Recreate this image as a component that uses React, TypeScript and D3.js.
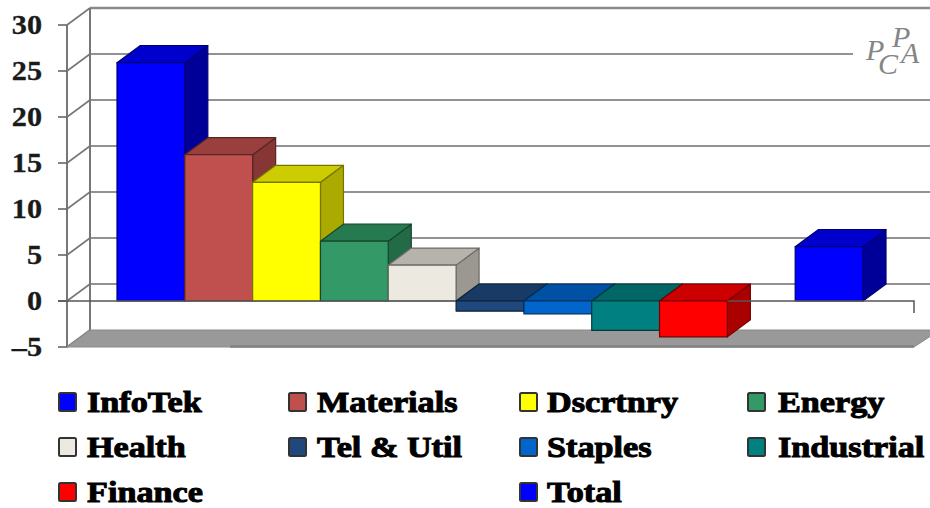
import React from "react";
import * as d3 from "d3";

// Sector returns shown as a 3D column chart with a blank slot before the total.
const categories = ["InfoTek", "Materials", "Dscrtnry", "Energy", "Health", "Tel & Util", "Staples", "Industrial", "Finance", "", "Total"];
const values = [25.9, 15.9, 12.9, 6.5, 3.9, -1.1, -1.4, -3.2, -3.9, null, 5.9];
const frontColors = ["#0000ff", "#c0504d", "#ffff00", "#339966", "#ece9e0", "#1f497d", "#0066cc", "#008080", "#ff0000", "none", "#0000ff"];
const topColors = ["#0000cc", "#993f3d", "#cccc00", "#267a50", "#b5b3ab", "#183a64", "#0050a3", "#006666", "#cc0000", "none", "#0000cc"];
const sideColors = ["#000099", "#863634", "#aaaa00", "#236b47", "#9a9890", "#142f52", "#00458c", "#005555", "#aa0000", "none", "#000099"];
const yTicks = [30, 25, 20, 15, 10, 5, 0, -5];
const legendRows = [
  ["InfoTek", "Materials", "Dscrtnry", "Energy"],
  ["Health", "Tel & Util", "Staples", "Industrial"],
  ["Finance", "", "Total", ""],
];

const W = 930;
const H = 508;
const DX = 23;
const DY = 17;
const BACK_GRID_END = 932;
const ZERO_END = 914;
const AXIS_X = 67;

const y = d3.scaleLinear().domain([-5, 30]).range([347, 25]);
const x = d3.scaleBand<string>().domain(categories.map((c, i) => `${i}:${c}`)).range([117, 863]);
const legendX = [59, 289, 520, 748];
const legendTextX = [87, 317, 547, 778];
const legendY = [402, 447, 492];
const poly = d3.line();
const serif = "'Liberation Serif', serif";

function Column({ index }: { index: number }) {
  const v = values[index];
  if (v === null) return null;
  const key = x.domain()[index];
  const x0 = x(key)!;
  const x1 = x0 + x.bandwidth();
  const yTop = v >= 0 ? y(v) : y(0);
  const yBottom = v >= 0 ? y(0) : y(v);
  const stroke = d3.color(frontColors[index])!.darker(2.2).formatHex();
  const edge = { stroke, strokeWidth: 1.2, strokeLinejoin: "round" as const };
  return (
    <g>
      <path
        d={poly([[x1, yTop], [x1 + DX, yTop - DY], [x1 + DX, yBottom - DY], [x1, yBottom]]) + "Z"}
        fill={sideColors[index]}
        {...edge}
      />
      <path
        d={poly([[x0, yTop], [x0 + DX, yTop - DY], [x1 + DX, yTop - DY], [x1, yTop]]) + "Z"}
        fill={topColors[index]}
        {...edge}
      />
      <rect x={x0} y={yTop} width={x1 - x0} height={yBottom - yTop} fill={frontColors[index]} {...edge} />
    </g>
  );
}

export default function App() {
  const floorFront = y(-5);
  const floorBack = floorFront - DY;
  const legendEntries = legendRows.flatMap((row, r) =>
    row.map((name, c) => ({ name, r, c })).filter((d) => d.name !== "")
  );
  return (
    <svg width={W} height={H} viewBox={`0 0 ${W} ${H}`} style={{ position: "fixed", left: 0, top: 0, background: "#fff" }}>
      {/* Back wall grid, with the upper rule stopping short of the logo */}
      {yTicks.filter((t) => t > -5).map((t) => (
        <line
          key={t}
          x1={AXIS_X + DX}
          x2={t === 25 ? 853 : BACK_GRID_END}
          y1={y(t) - DY}
          y2={y(t) - DY}
          stroke={t === 30 ? "#8a8a8a" : "#6e6e6e"}
          strokeWidth={t === 30 ? 2.4 : 1.6}
        />
      ))}
      {/* Left wall */}
      <line x1={AXIS_X + DX} x2={AXIS_X + DX} y1={y(30) - DY} y2={floorBack} stroke="#777" strokeWidth={2} />
      <line x1={AXIS_X} x2={AXIS_X} y1={y(30)} y2={floorFront} stroke="#777" strokeWidth={2} />
      {yTicks.map((t) => (
        <g key={t}>
          <line x1={AXIS_X - 9} x2={AXIS_X} y1={y(t)} y2={y(t)} stroke="#666" strokeWidth={1.6} />
          <line x1={AXIS_X} x2={AXIS_X + DX} y1={y(t)} y2={y(t) - DY} stroke="#777" strokeWidth={1.6} />
          <text
            transform={`translate(42,${y(t) + 9}) scale(1.12,1)`}
            textAnchor="end"
            fontFamily={serif}
            fontWeight="bold"
            fontSize={27}
            stroke="#1a1a1a"
            strokeWidth={0.3}
            fill="#1a1a1a"
          >
            {t < 0 ? `–${-t}` : t}
          </text>
        </g>
      ))}
      {/* Floor slab */}
      <path
        d={poly([[AXIS_X, floorFront], [AXIS_X + DX, floorBack], [W + 10, floorBack], [ZERO_END, floorFront]]) + "Z"}
        fill="#999"
        stroke="#8a8a8a"
        strokeWidth={1}
      />
      <line x1={230} x2={ZERO_END} y1={floorFront - 0.5} y2={floorFront - 0.5} stroke="#838383" strokeWidth={2.5} />
      {/* Columns, painted left to right so each one overlaps its neighbour's side */}
      {categories.map((_, i) => <Column key={i} index={i} />)}
      {/* Zero baseline with its end tick */}
      <path
        d={`M${AXIS_X - 9},${y(0)}H${x(x.domain()[5])!}M${x(x.domain()[8])! + x.bandwidth()},${y(0)}H${ZERO_END}V${y(0) + 12}`}
        fill="none"
        stroke="#555"
        strokeWidth={1.5}
      />
      {/* Publisher mark */}
      <g fontFamily={serif} fontStyle="italic" fontSize={30} fill="#858585">
        <text x={866} y={60}>P</text>
        <text x={892} y={47}>P</text>
        <text x={878} y={74}>C</text>
        <text x={901} y={63}>A</text>
      </g>
      {/* Legend */}
      {legendEntries.map((d) => {
        const i = categories.indexOf(d.name);
        return (
          <g key={d.name}>
            <rect
              x={legendX[d.c]}
              y={legendY[d.r] - 9}
              width={17}
              height={18}
              fill={frontColors[i]}
              stroke="#333"
              strokeWidth={2}
              rx={1.5}
            />
            <text
              transform={`translate(${legendTextX[d.c]},${legendY[d.r] + 10}) scale(1.14,1)`}
              fontFamily={serif}
              fontWeight="bold"
              fontSize={30}
              stroke="#000"
              strokeWidth={1}
              fill="#000"
            >
              {d.name}
            </text>
          </g>
        );
      })}
    </svg>
  );
}
